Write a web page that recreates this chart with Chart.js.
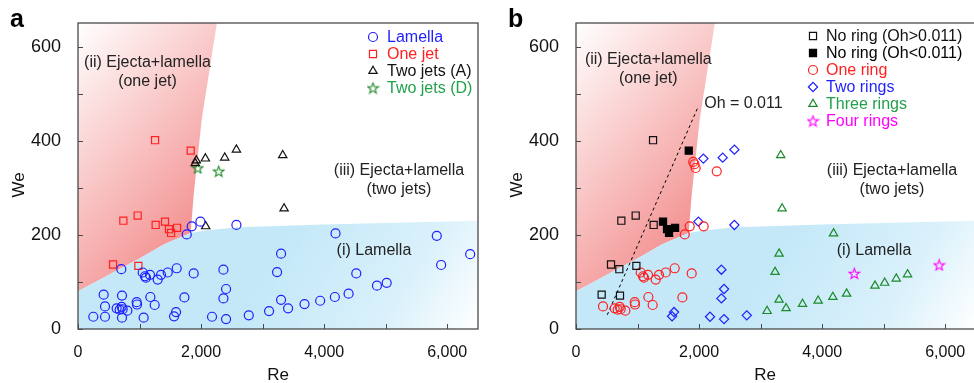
<!DOCTYPE html>
<html lang="en">
<head>
<meta charset="UTF-8">
<title>Impact regimes: We vs Re</title>
<script src="https://cdn.jsdelivr.net/npm/chart.js"></script>
<style>
  body { margin: 0; width: 974px; height: 383px; overflow: hidden; background: #fff; position: relative;
         font-family: "Liberation Sans", Arial, sans-serif; }
  .panel { position: absolute; top: 0; height: 383px; }
  #panelA { left: 0; width: 487px; }
  #panelB { left: 487px; width: 497px; }
  .tag { position: absolute; top: 6px; font-size: 25px; line-height: 1; font-weight: bold; color: #000; }
</style>
</head>
<body>
<div class="panel" id="panelA"><canvas id="chartA"></canvas></div>
<div class="panel" id="panelB"><canvas id="chartB"></canvas></div>
<div class="tag" style="left:10px">a</div>
<div class="tag" style="left:508px">b</div>
<script>
// axis ticks
const xTicks = [0, 2000, 4000, 6000];
const xMinor = [1000, 3000, 5000];
const yTicks = [0, 200, 400, 600];
const yMinor = [100, 300, 500];

// regime boundaries [Re, We]
const lamellaEdge = [[0, 80], [300, 101], [600, 122], [1000, 150], [1400, 180], [1830, 204], [2100, 210], [2600, 216], [4000, 222], [6500, 230]];
const oneJetEdge = [[0, 80], [300, 101], [600, 122], [1000, 150], [1400, 180], [1830, 204], [1880, 285], [2010, 445], [2257, 650]];
const ohLine = [[508, 30], [1985, 472]];

// panel a  [Re, We]
const lamellaA = [
  [249, 26], [439, 26], [715, 24], [1067, 24], [1561, 27], [1593, 36], [2178, 26], [2406, 21], [2775, 29], [3105, 38],
  [417, 73], [715, 71], [1176, 68], [1729, 67], [2406, 85], [2363, 65],
  [439, 48], [628, 44], [710, 47], [726, 42], [677, 41], [802, 39], [954, 57], [959, 52], [1246, 51],
  [704, 127], [1051, 120], [1089, 112], [1105, 109], [1170, 115], [1295, 105], [1349, 115], [1458, 120], [1604, 129], [1880, 118], [2363, 126],
  [1989, 228], [2574, 221], [1848, 218], [1767, 201],
  [3300, 160], [3235, 121], [3300, 62], [3414, 44], [3681, 53], [3935, 60], [4174, 68], [4397, 75], [4522, 118],
  [4858, 92], [5016, 98], [4185, 203], [5830, 198], [5901, 136], [6373, 159]
];
const oneJetA = [[1252, 401], [1832, 379], [737, 230], [970, 241], [1262, 221], [1414, 228], [1479, 212], [1512, 204], [1610, 215], [569, 137], [981, 134]];
const twoJetsA = [[1905, 352], [1922, 358], [2070, 362], [2384, 364], [2574, 381], [3327, 369], [3349, 256], [2075, 218]];
const twoJetsD = [[1945, 342], [2287, 335]];

// panel b  [Re, We]
const noRingOpen = [[1252, 401], [737, 230], [970, 241], [1262, 221], [569, 137], [704, 127], [981, 134], [417, 73], [715, 71]];
const noRingFilled = [[1832, 379], [1414, 228], [1479, 212], [1512, 204], [1610, 215]];
const oneRing = [
  [1905, 355], [1925, 350], [1945, 342], [2287, 335], [1848, 218], [1767, 201], [2075, 218],
  [1051, 120], [1089, 112], [1105, 109], [1170, 115], [1295, 105], [1349, 115], [1458, 120], [1604, 129], [1880, 118],
  [1176, 68], [1729, 67], [439, 48], [628, 44], [710, 47], [726, 42], [677, 41], [802, 39], [954, 57], [959, 52], [1246, 51]
];
const twoRings = [[2070, 362], [2384, 364], [2574, 381], [1989, 228], [2574, 221], [2363, 126], [2406, 85], [2363, 65], [1561, 27], [1593, 36], [2178, 26], [2406, 21], [2775, 29]];
const threeRings = [[3327, 369], [3349, 256], [4185, 203], [3300, 160], [3235, 121], [3105, 38], [3300, 62], [3414, 44], [3681, 53], [3935, 60], [4174, 68], [4397, 75], [4858, 92], [5016, 98], [5204, 107], [5388, 116]];
const fourRings = [[4522, 118], [5901, 136]];

const FONT = '"Liberation Sans", Arial, sans-serif';
const xy = arr => arr.map(p => ({ x: p[0], y: p[1] }));

function starImage(color) {
  const c = document.createElement('canvas');
  c.width = 13; c.height = 13;
  const g = c.getContext('2d');
  g.strokeStyle = color;
  g.lineWidth = 1.1;
  g.beginPath();
  for (let i = 0; i < 10; i++) {
    const r = i % 2 ? 2.3 : 5.6;
    const a = -Math.PI / 2 + i * Math.PI / 5;
    g.lineTo(6.5 + r * Math.cos(a), 7 + r * Math.sin(a));
  }
  g.closePath();
  g.stroke();
  return c;
}

// red wash: white in the top-left corner, deepening to the right and downwards
function redFill(context) {
  const chart = context.chart, a = chart.chartArea;
  if (!a) return 'rgba(242,130,130,0.6)';
  const g = chart.ctx.createLinearGradient(a.left, a.top, a.left + 221, a.top + 195);
  g.addColorStop(0, 'rgb(255,255,255)');
  g.addColorStop(1, 'rgb(240,112,112)');
  return g;
}
function blueFill(context) {
  const chart = context.chart, a = chart.chartArea;
  if (!a) return 'rgb(198,233,248)';
  const g = chart.ctx.createLinearGradient(chart.scales.x.getPixelForValue(3600), chart.scales.y.getPixelForValue(230), a.right, a.bottom);
  g.addColorStop(0, 'rgb(196,232,248)');
  g.addColorStop(0.6, 'rgb(218,241,251)');
  g.addColorStop(1, 'rgb(255,255,255)');
  return g;
}

function regions(withOh) {
  const ds = [
    { type: 'line', data: xy(oneJetEdge), fill: 'end', backgroundColor: redFill, borderColor: 'transparent', borderWidth: 0, pointRadius: 0, order: 3 },
    { type: 'line', data: xy(lamellaEdge), fill: 'start', backgroundColor: blueFill, borderColor: 'transparent', borderWidth: 0, pointRadius: 0, order: 2 }
  ];
  if (withOh) {
    ds.push({ type: 'line', data: xy(ohLine), fill: false, borderColor: '#000', borderWidth: 1, borderDash: [3, 3], pointRadius: 0, order: 1 });
  }
  return ds;
}

function marks(label, data, style, color, radius, textColor, filled) {
  return {
    label, data: xy(data), inLegend: true, textColor: textColor || color,
    pointStyle: style, pointRadius: radius, borderWidth: 1.2,
    borderColor: color, backgroundColor: filled ? color : 'rgba(0,0,0,0)', order: 0
  };
}

const framePlugin = {
  id: 'frame',
  afterDatasetsDraw(chart, args, opts) {
    const { ctx, chartArea: a, scales: { x, y } } = chart;
    ctx.save();
    ctx.strokeStyle = '#4a4a4a';
    ctx.lineWidth = 1.3;
    ctx.strokeRect(a.left, a.top, a.right - a.left, a.bottom - a.top);
    ctx.lineWidth = 1;
    ctx.beginPath();
    xTicks.concat(xMinor).forEach(v => {
      const px = Math.round(x.getPixelForValue(v)) + 0.5;
      ctx.moveTo(px, a.bottom); ctx.lineTo(px, a.bottom - 5);
    });
    yTicks.concat(yMinor).forEach(v => {
      const py = Math.round(y.getPixelForValue(v)) + 0.5;
      ctx.moveTo(a.left, py); ctx.lineTo(a.left + 5, py);
    });
    ctx.stroke();
    // region labels
    ctx.fillStyle = '#222';
    ctx.font = '16px ' + FONT;
    ctx.textBaseline = 'middle';
    (opts.notes || []).forEach(n => {
      ctx.textAlign = n.align || 'center';
      ctx.fillText(n.text, x.getPixelForValue(n.re), y.getPixelForValue(n.we));
    });
    // axis titles
    ctx.fillStyle = '#111';
    ctx.font = '17px ' + FONT;
    ctx.textAlign = 'center';
    ctx.fillText('Re', 278, 375);
    ctx.translate(opts.yTitleX, 185);
    ctx.rotate(-Math.PI / 2);
    ctx.fillText('We', 0, 0);
    ctx.restore();
  }
};

const legendPlugin = {
  id: 'sideLegend',
  afterDraw(chart, args, opts) {
    const ctx = chart.ctx;
    ctx.save();
    ctx.font = '16px ' + FONT;
    ctx.textBaseline = 'middle';
    ctx.textAlign = 'left';
    chart.data.datasets.filter(d => d.inLegend).forEach((d, i) => {
      const yy = opts.top + i * opts.gap;
      ctx.strokeStyle = d.borderColor;
      ctx.fillStyle = d.backgroundColor;
      ctx.lineWidth = d.borderWidth;
      Chart.helpers.drawPoint(ctx, { pointStyle: d.pointStyle, radius: d.pointRadius, borderWidth: d.borderWidth, rotation: 0 }, opts.markerX, yy);
      ctx.fillStyle = d.textColor;
      ctx.fillText(d.label, opts.textX, yy + 1);
    });
    ctx.restore();
  }
};

function makeChart(id, datasets, opt) {
  return new Chart(document.getElementById(id), {
    type: 'scatter',
    data: { datasets },
    options: {
      responsive: true,
      maintainAspectRatio: false,
      animation: false,
      layout: { padding: { top: 23, right: opt.padRight, left: 0, bottom: 0 } },
      plugins: {
        legend: { display: false },
        tooltip: { enabled: false },
        sideLegend: opt.legend,
        frame: { notes: opt.notes, yTitleX: opt.yTitleX }
      },
      scales: {
        x: {
          type: 'linear', min: 0, max: 6500,
          grid: { display: false }, border: { display: false },
          afterBuildTicks: s => { s.ticks = xTicks.map(v => ({ value: v })); },
          afterFit: s => { s.height = 54; },
          ticks: { padding: 6, color: '#111', font: { size: 16, family: FONT }, callback: v => v.toLocaleString('en-US') }
        },
        y: {
          type: 'linear', min: 0, max: 650,
          grid: { display: false }, border: { display: false },
          afterBuildTicks: s => { s.ticks = yTicks.map(v => ({ value: v })); },
          afterFit: s => { s.width = opt.yWidth; },
          ticks: { padding: 9, color: '#111', font: { size: 18, family: FONT } }
        }
      }
    },
    plugins: [framePlugin, legendPlugin]
  });
}

makeChart('chartA', regions(false).concat([
  marks('Lamella', lamellaA, 'circle', '#1f1fff', 4.5),
  marks('One jet', oneJetA, 'rect', '#ff2020', 5),
  marks('Two jets (A)', twoJetsA, 'triangle', '#111', 4.8),
  marks('Two jets (D)', twoJetsD, starImage('#1e8a2a'), '#1e8a2a', 5, '#22a04a')
]), {
  padRight: 9, yWidth: 78, yTitleX: 19,
  legend: { markerX: 373, textX: 387, top: 37, gap: 17 },
  notes: [
    { text: '(ii) Ejecta+lamella', re: 1129, we: 566 },
    { text: '(one jet)', re: 1129, we: 526 },
    { text: '(iii) Ejecta+lamella', re: 5216, we: 337 },
    { text: '(two jets)', re: 5216, we: 297 },
    { text: '(i) Lamella', re: 4809, we: 166 }
  ]
});

makeChart('chartB', regions(true).concat([
  marks('No ring (Oh>0.011)', noRingOpen, 'rect', '#111', 5),
  marks('No ring (Oh<0.011)', noRingFilled, 'rect', '#000', 5, '#000', true),
  marks('One ring', oneRing, 'circle', '#ff2020', 4.5),
  marks('Two rings', twoRings, 'rectRot', '#1f1fff', 4.6),
  marks('Three rings', threeRings, 'triangle', '#1a8a2a', 4.8, '#22a04a'),
  marks('Four rings', fourRings, starImage('#ff00ff'), '#ff00ff', 5)
]), {
  padRight: 8, yWidth: 89, yTitleX: 30,
  legend: { markerX: 326, textX: 339, top: 36, gap: 17 },
  notes: [
    { text: '(ii) Ejecta+lamella', re: 1174, we: 573 },
    { text: '(one jet)', re: 1174, we: 532 },
    { text: 'Oh = 0.011', re: 2083, we: 479, align: 'left' },
    { text: '(iii) Ejecta+lamella', re: 5135, we: 337 },
    { text: '(two jets)', re: 5135, we: 297 },
    { text: '(i) Lamella', re: 4842, we: 166 }
  ]
});
</script>
</body>
</html>
